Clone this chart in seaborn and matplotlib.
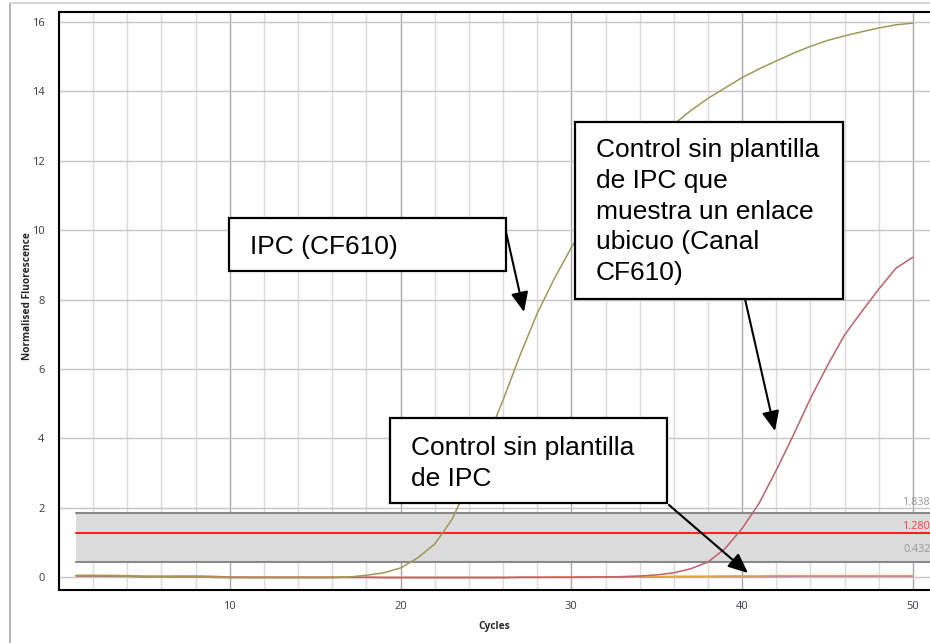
import matplotlib
matplotlib.use("Agg")
import matplotlib.pyplot as plt
from matplotlib.lines import Line2D
from matplotlib.patches import Rectangle, FancyArrowPatch
from matplotlib.ticker import MultipleLocator
import seaborn as sns
import pandas as pd

cycles = list(range(1, 51))
ipc = [0.04, 0.04, 0.03, 0.02, 0.01, 0.01, 0.0, 0.0, -0.01, -0.02,
       -0.02, -0.02, -0.02, -0.02, -0.02, -0.02, 0.0, 0.05, 0.12, 0.26,
       0.55, 0.95, 1.65, 2.7, 3.9, 5.1, 6.4, 7.6, 8.6, 9.5,
       10.3, 11.0, 11.6, 12.15, 12.65, 13.05, 13.45, 13.8, 14.1, 14.4,
       14.65, 14.88, 15.1, 15.3, 15.47, 15.6, 15.72, 15.83, 15.92, 15.97]
ntc_ipc = [0.03, 0.03, 0.02, 0.02, 0.01, 0.01, 0.0, 0.0, -0.01, -0.01,
           -0.01, -0.01, -0.01, -0.01, -0.01, -0.01, -0.01, -0.01, -0.02, -0.02,
           -0.02, -0.02, -0.02, -0.02, -0.02, -0.02, -0.01, -0.01, -0.01, -0.01,
           0.0, 0.0, 0.01, 0.03, 0.06, 0.12, 0.24, 0.43, 0.82, 1.4,
           2.13, 3.08, 4.09, 5.15, 6.1, 6.98, 7.65, 8.3, 8.9, 9.22]
ntc_naranja = [0.05, 0.05, 0.05, 0.04, 0.03, 0.02, 0.01, 0.0, 0.0, -0.01,
               -0.01, -0.01, -0.01, -0.01, -0.01, -0.01, -0.01, -0.01, -0.01, -0.01,
               -0.01, -0.01, -0.01, -0.01, -0.01, -0.01, -0.01, -0.01, 0.0, 0.0,
               0.0, 0.0, 0.01, 0.01, 0.01, 0.02, 0.02, 0.02, 0.03, 0.03,
               0.03, 0.04, 0.04, 0.04, 0.04, 0.04, 0.04, 0.04, 0.04, 0.04]
ntc_violeta = [0.03, 0.03, 0.02, 0.02, 0.01, 0.02, 0.03, 0.03, 0.02, 0.0,
               -0.01, -0.01, -0.01, -0.01, -0.01, -0.01, -0.01, -0.01, -0.01, -0.01,
               -0.01, -0.01, -0.01, -0.01, -0.01, -0.01, -0.01, -0.01, -0.01, -0.01,
               -0.01, 0.0, 0.0, 0.0, 0.0, 0.01, 0.01, 0.01, 0.01, 0.01,
               0.01, 0.01, 0.02, 0.02, 0.02, 0.02, 0.02, 0.02, 0.02, 0.02]

series_names = ["NTC violeta", "NTC naranja", "NTC IPC", "IPC (CF610)"]
series_colors = ["#b27cc4", "#eea23a", "#c0606a", "#9c9a58"]

thresholds = [1.838, 1.280, 0.432]
threshold_labels = ["1.838", "1.280", "0.432"]
threshold_colors = ["#8a8a8a", "#ff2020", "#8a8a8a"]
label_colors = ["#9a9a9a", "#ff3a3a", "#9a9a9a"]
label_offsets = [7.5, 4.5, 9.0]   # puntos por encima de la línea
band_start = 1.0

x_ticks = [10, 20, 30, 40, 50]
y_ticks = [0, 2, 4, 6, 8, 10, 12, 14, 16]

# tabla larga para seaborn
df = pd.DataFrame({
    "cycle": cycles * 4,
    "value": ntc_violeta + ntc_naranja + ntc_ipc + ipc,
    "serie": [n for n in series_names for _ in cycles],
})

sns.set_style("white")
W, H = 930, 643
fig = plt.figure(figsize=(W / 100, H / 100), dpi=100)
ax = fig.add_axes([59 / W, 1 - 590 / H, 1 - 59 / W, (590 - 12) / H])

# banda de umbral
ax.fill_between([band_start, 52], thresholds[-1], thresholds[0],
                color="#dcdcdc", zorder=1, linewidth=0)
for t, c in zip(thresholds, threshold_colors):
    ax.plot([band_start, 52], [t, t], color=c, linewidth=1.5, zorder=2)

sns.lineplot(data=df, x="cycle", y="value", hue="serie", hue_order=series_names,
             palette=dict(zip(series_names, series_colors)), linewidth=1.1,
             legend=False, ax=ax, zorder=3)

for t, lab, c, off in zip(thresholds, threshold_labels, label_colors, label_offsets):
    ax.annotate(lab, xy=(51.05, t), xytext=(0, off), textcoords="offset points",
                ha="right", va="center", fontsize=7.8, color=c, family="Open Sans",
                annotation_clip=False, zorder=4)

ax.set_xlim(0, 51)
ax.set_ylim(-0.375, 16.29)
ax.set_xticks(x_ticks)
ax.set_yticks(y_ticks)
ax.xaxis.set_minor_locator(MultipleLocator(2))
ax.yaxis.set_minor_locator(MultipleLocator(0.5))

# rejilla
ax.grid(which="major", axis="x", color="#a8a8a8", linewidth=1.0, zorder=0)
ax.grid(which="minor", axis="x", color="#dadada", linewidth=1.0, zorder=0)
ax.grid(which="major", axis="y", color="#c6c6c6", linewidth=1.0, zorder=0)
ax.set_axisbelow(True)

for side in ["left", "bottom", "top"]:
    ax.spines[side].set_color("black")
    ax.spines[side].set_linewidth(1.5)
ax.spines["right"].set_visible(False)

ax.tick_params(axis="both", which="both", direction="out", colors="#555555",
               labelcolor="#3a3a48", labelsize=8)
ax.tick_params(axis="y", which="major", length=4.5, width=0.8, pad=6)
ax.tick_params(axis="y", which="minor", length=2.5, width=0.6)
ax.tick_params(axis="x", which="major", length=3, width=0.8, pad=5)
ax.tick_params(axis="x", which="minor", length=3, width=0.6, color="#cccccc")
for lbl in ax.get_xticklabels() + ax.get_yticklabels():
    lbl.set_family("Open Sans")

ax.set_xlabel("")
ax.set_ylabel("")
fig.text(28 / W, 1 - 296 / H, "Normalised Fluorescence", rotation=90,
         ha="center", va="center", fontsize=7.3, fontweight="bold", family="Open Sans")
fig.text(494 / W, 1 - 626 / H, "Cycles", ha="center", va="center",
         fontsize=7.3, fontweight="bold", family="Open Sans")

# marco de la captura
fig.add_artist(Line2D([10 / W, 10 / W], [0, 1 - 3 / H], color="#a8a8a8", linewidth=1.2))
fig.add_artist(Line2D([10 / W, 1], [1 - 3 / H, 1 - 3 / H], color="#d0d0d0", linewidth=1.2))


def fx(px):
    return px / W


def fy(py):
    return 1 - py / H


# cuadros de anotación
cuadros = [
    ((229, 218, 506, 271), ["IPC (CF610)"], 250, 254),
    ((575, 122, 843, 299), ["Control sin plantilla", "de IPC que", "muestra un enlace",
                            "ubicuo (Canal", "CF610)"], 596, 157),
    ((390, 418, 667, 503), ["Control sin plantilla", "de IPC"], 411, 455),
]
for (x0, y0, x1, y1), lineas, tx, ty in cuadros:
    fig.add_artist(Rectangle((fx(x0), fy(y1)), fx(x1) - fx(x0), fy(y0) - fy(y1),
                             transform=fig.transFigure, facecolor="white",
                             edgecolor="black", linewidth=1.6, zorder=5))
    for i, linea in enumerate(lineas):
        fig.text(fx(tx), fy(ty + i * 30.8), linea, ha="left", va="baseline",
                 fontsize=19, family="Liberation Sans", color="black", zorder=6)

flechas = [((506, 232), (524, 312)), ((745, 299), (775, 431)), ((669, 505), (748, 573))]
for (xa, ya), (xb, yb) in flechas:
    fig.add_artist(FancyArrowPatch((fx(xa), fy(ya)), (fx(xb), fy(yb)),
                                   transform=fig.transFigure,
                                   arrowstyle="-|>,head_length=0.8,head_width=0.35",
                                   mutation_scale=15, color="black", linewidth=1.5,
                                   shrinkA=0, shrinkB=0, zorder=6))

fig.savefig("out.png", dpi=100)
